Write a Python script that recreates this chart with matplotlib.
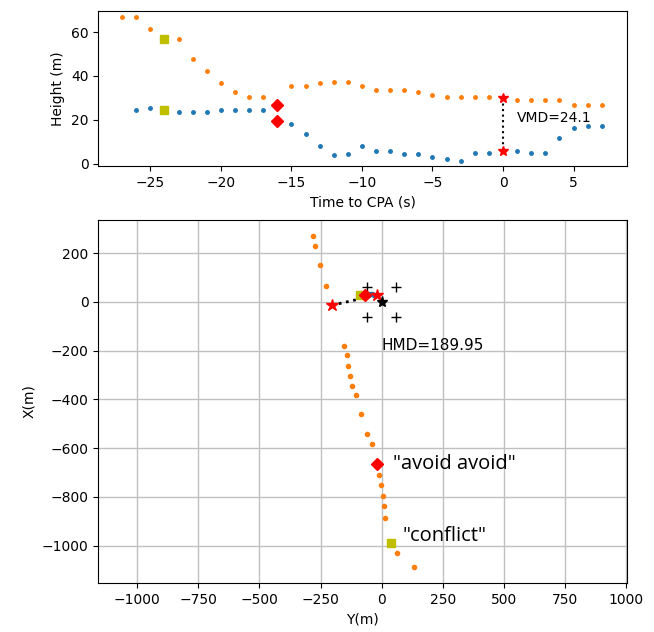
import matplotlib.pyplot as plt

# --- top panel: height vs time to CPA ---
t_own = [-27, -26, -25, -24, -23, -22, -21, -20, -19, -18, -17, -16, -15, -14, -13, -12, -11,
         -10, -9, -8, -7, -6, -5, -4, -3, -2, -1, 0, 1, 2, 3, 4, 5, 6, 7]
h_own = [66.7, 66.7, 61.3, 56.6, 56.6, 47.6, 42.4, 36.7, 32.5, 30.2, 30.2, 26.9, 35.4, 35.4, 36.7,
         37.3, 37.3, 35.4, 33.4, 33.4, 33.4, 32.5, 31.2, 30.2, 30.2, 30.2, 30.2, 30.0, 29.1, 29.1,
         29.1, 29.1, 26.9, 26.9, 26.9]
t_int = [-26, -25, -24, -23, -22, -21, -20, -19, -18, -17, -16, -15, -14, -13, -12, -11,
         -10, -9, -8, -7, -6, -5, -4, -3, -2, -1, 0, 1, 2, 3, 4, 5, 6, 7]
h_int = [24.4, 25.4, 24.4, 23.4, 23.4, 23.4, 24.4, 24.4, 24.4, 24.4, 19.2, 18.1, 13.3, 8.0, 3.7,
         4.3, 8.0, 5.9, 5.9, 4.3, 4.3, 3.2, 2.2, 1.1, 4.8, 4.8, 5.9, 5.9, 4.8, 4.8, 11.8, 16.1,
         17.0, 17.0]
t_conflict, h_conflict = [-24, -24], [56.6, 24.4]
t_avoid, h_avoid = [-16, -16], [26.9, 19.2]
t_cpa, h_cpa = [0, 0], [30.0, 5.9]

# --- bottom panel: horizontal positions ---
y_own = [-280, -271, -252, -229, -153, -144, -139, -129, -120, -107, -84, -60, -41,
         -13, -4, 6, 10, 15, 62, 132]
x_own = [272, 230, 150, 65, -181, -219, -261, -302, -345, -382, -461, -540, -581,
         -709, -751, -796, -839, -885, -1029, -1086]
y_int = [-48, -40, -32]
x_int = [32, 31, 30]
y_conf2, x_conf2 = [40, -88], [-990, 28]
y_avoid2, x_avoid2 = [-18, -70], [-666, 29]
y_cpa2, x_cpa2 = [-205, -20], [-14, 28]
y_box = [-60, 60, -60, 60]
x_box = [60, 60, -60, -60]

fig = plt.figure(figsize=(6.54, 6.32), dpi=100)
ax1 = fig.add_axes([0.150, 0.737, 0.809, 0.2453])
ax2 = fig.add_axes([0.150, 0.0775, 0.809, 0.5744])

ax1.plot(t_int, h_int, '.', color='C0', markersize=5)
ax1.plot(t_own, h_own, '.', color='C1', markersize=5)
ax1.plot(t_conflict, h_conflict, 's', color='y', markersize=6)
ax1.plot(t_avoid, h_avoid, 'D', color='r', markersize=6)
ax1.plot(t_cpa, h_cpa, 'k:', linewidth=1.5)
ax1.plot(t_cpa, h_cpa, '*', color='r', markersize=7)
ax1.text(1.0, 20.7, 'VMD=24.1', fontsize=10, va='center', ha='left')
ax1.set_xlim(-28.7, 8.8)
ax1.set_ylim(-1.2, 69.5)
ax1.set_xlabel('Time to CPA (s)')
ax1.set_ylabel('Height (m)')

ax2.grid(True, color='#c0c0c0', linewidth=1)
ax2.set_axisbelow(True)
ax2.plot(y_own, x_own, '.', color='C1', markersize=6)
ax2.plot(y_int, x_int, '.', color='C0', markersize=6)
ax2.plot(y_box, x_box, '+', color='k', markersize=7)
ax2.plot(y_cpa2, x_cpa2, 'k:', linewidth=2)
ax2.plot(y_conf2, x_conf2, 's', color='y', markersize=6)
ax2.plot(y_avoid2, x_avoid2, 'D', color='r', markersize=6)
ax2.plot(y_cpa2, x_cpa2, '*', color='r', markersize=9)
ax2.plot([0], [0], '*', color='k', markersize=8)
ax2.text(0, -180, 'HMD=189.95', fontsize=11, va='center', ha='left')
ax2.text(48, -666, '"avoid avoid"', fontsize=14.5, va='center', ha='left', family='Open Sans')
ax2.text(85, -959, '"conflict"', fontsize=14.5, va='center', ha='left', family='Open Sans')
ax2.set_xlim(-1160, 1004)
ax2.set_ylim(-1153, 336)
ax2.set_xticks([-1000, -750, -500, -250, 0, 250, 500, 750, 1000])
ax2.set_yticks([-1000, -800, -600, -400, -200, 0, 200])
ax2.set_xlabel('Y(m)')
ax2.set_ylabel('X(m)')

fig.savefig('out.png', dpi=100)
